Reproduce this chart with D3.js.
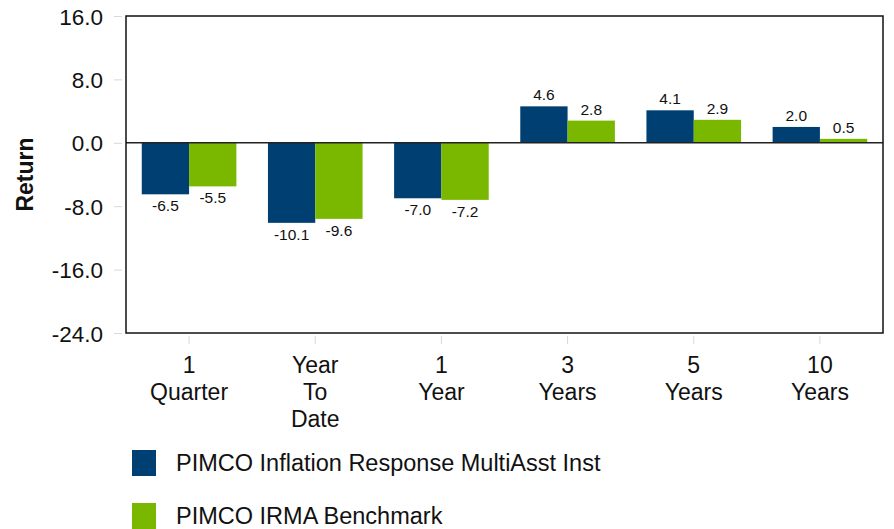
<!DOCTYPE html>
<html>
<head>
<meta charset="utf-8">
<script src="https://cdn.jsdelivr.net/npm/d3@7"></script>
<style>
  body { margin: 0; background: #fff; }
  text { font-family: "Liberation Sans", Arial, sans-serif; fill: #111; }
</style>
</head>
<body>
<div id="chart"></div>
<script>
const categories = [['1', 'Quarter'], ['Year', 'To', 'Date'], ['1', 'Year'], ['3', 'Years'], ['5', 'Years'], ['10', 'Years']];
const fund = [-6.5, -10.1, -7.0, 4.6, 4.1, 2.0];
const benchmark = [-5.5, -9.6, -7.2, 2.8, 2.9, 0.5];
const seriesNames = ['PIMCO Inflation Response MultiAsst Inst', 'PIMCO IRMA Benchmark'];
const yTicks = [16, 8, 0, -8, -16, -24];

const colors = ['#003f72', '#7ab800'];
const W = 894, H = 529;
const m = { left: 126, right: 11, top: 16, bottom: 196 };
const fmt = (d) => d.toFixed(1); // plain hyphen minus like the original

const svg = d3.select('#chart').append('svg').attr('width', W).attr('height', H);

const x = d3.scaleBand().domain(d3.range(categories.length)).range([m.left, W - m.right]).paddingInner(0.25).paddingOuter(0.125);
const y = d3.scaleLinear().domain([-24, 16]).range([H - m.bottom, m.top]);
const xSub = d3.scaleBand().domain([0, 1]).range([0, x.bandwidth()]);

// y axis ticks and labels
const yAxis = svg.append('g').attr('transform', `translate(${m.left},0)`)
  .call(d3.axisLeft(y).tickValues(yTicks).tickFormat(fmt).tickSize(12).tickPadding(11));
yAxis.select('.domain').remove();
yAxis.selectAll('line').attr('stroke', '#d8d8d8').attr('x2', -4).attr('x1', -12);
yAxis.selectAll('text').attr('font-size', 22.5).attr('dy', '0.36em');

// x ticks
const xTicks = svg.append('g');
x.domain().forEach((i) => {
  const cx = x(i) + x.bandwidth() / 2;
  xTicks.append('line').attr('x1', cx).attr('x2', cx).attr('y1', y(-24) + 3).attr('y2', y(-24) + 11).attr('stroke', '#d8d8d8');
  const t = xTicks.append('text').attr('x', cx).attr('y', 373).attr('text-anchor', 'middle').attr('font-size', 23);
  categories[i].forEach((ln, k) => t.append('tspan').attr('x', cx).attr('dy', k ? 27 : 0).text(ln));
});

// bars
[fund, benchmark].forEach((vals, s) => {
  const g = svg.append('g');
  g.selectAll('rect').data(vals).join('rect')
    .attr('x', (d, i) => x(i) + xSub(s))
    .attr('width', xSub.bandwidth())
    .attr('y', (d) => y(Math.max(0, d)))
    .attr('height', (d) => Math.abs(y(d) - y(0)))
    .attr('fill', colors[s]);
  g.selectAll('text').data(vals).join('text')
    .attr('x', (d, i) => x(i) + xSub(s) + xSub.bandwidth() / 2)
    .attr('y', (d) => d >= 0 ? y(d) - 6 : y(d) + 17)
    .attr('text-anchor', 'middle')
    .attr('font-size', 15.5)
    .text(fmt);
});

// zero line and frame
svg.append('line').attr('x1', m.left).attr('x2', W - m.right).attr('y1', y(0)).attr('y2', y(0)).attr('stroke', '#222').attr('stroke-width', 1.5);
svg.append('rect').attr('x', m.left).attr('y', y(16)).attr('width', W - m.right - m.left).attr('height', y(-24) - y(16))
  .attr('fill', 'none').attr('stroke', '#111').attr('stroke-width', 1.5);

// y title
svg.append('text').attr('transform', `translate(33,${(y(16) + y(-24)) / 2}) rotate(-90)`)
  .attr('text-anchor', 'middle').attr('font-size', 23).attr('font-weight', 'bold').text('Return');

// legend
const leg = svg.append('g').selectAll('g').data(seriesNames).join('g')
  .attr('transform', (d, i) => `translate(132,${450 + i * 53})`);
leg.append('rect').attr('width', 24).attr('height', 26).attr('fill', (d, i) => colors[i]);
leg.append('text').attr('x', 44).attr('y', 13).attr('dy', '0.36em').attr('font-size', 23.5).text((d) => d);
</script>
</body>
</html>
